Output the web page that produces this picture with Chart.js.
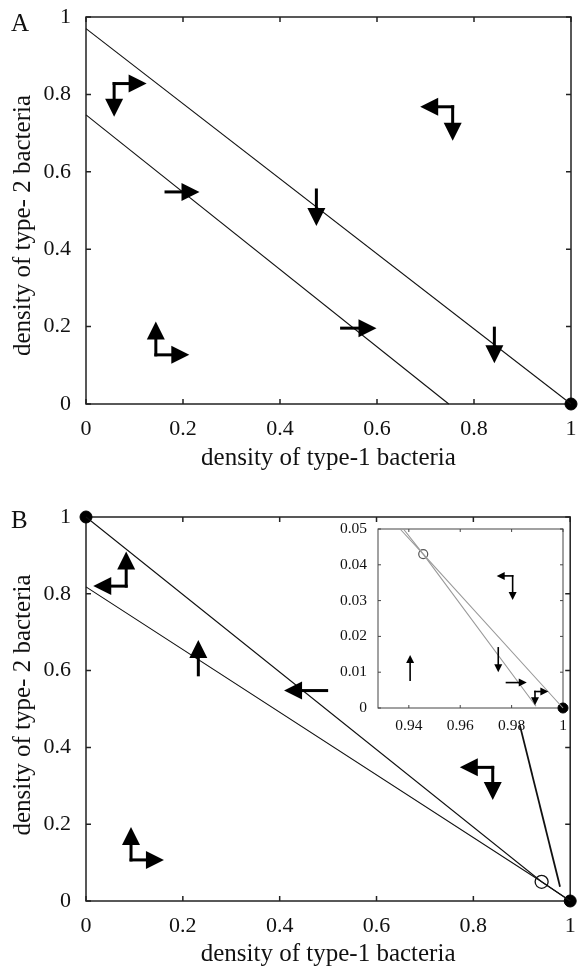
<!DOCTYPE html>
<html>
<head>
<meta charset="utf-8">
<script src="https://cdn.jsdelivr.net/npm/chart.js@4.4.0/dist/chart.umd.min.js"></script>
<style>
  body { margin: 0; background: #fff; }
  #wrap { position: relative; width: 578px; height: 970px; overflow: hidden; }
  canvas { position: absolute; }
  .tag { position: absolute; font-family: 'Liberation Serif', serif; font-size: 25px; line-height: 1; color: #111; }
</style>
</head>
<body>
<div id="wrap">
  <canvas id="chartA" width="578" height="485" style="left:0;top:0"></canvas>
  <canvas id="chartB" width="578" height="485" style="left:0;top:485px"></canvas>
  <canvas id="chartInset" width="240" height="215" style="left:330px;top:515px"></canvas>
  <div class="tag" style="left:11px;top:10px">A</div>
  <div class="tag" style="left:11px;top:507px">B</div>
</div>
<script>
const FONT = 'Liberation Serif';

// axis ticks
const mainTicks = [0, 0.2, 0.4, 0.6, 0.8, 1];
const insetXTicks = [0.94, 0.96, 0.98, 1];
const insetYTicks = [0, 0.01, 0.02, 0.03, 0.04, 0.05];

// panel A: the two nullclines and the fixed point
const aUpperX = [0, 1];
const aUpperY = [0.97, 0];
const aLowerX = [0, 0.748];
const aLowerY = [0.747, 0];
const aFixedX = [1];
const aFixedY = [0];
// arrows as [tailX, tailY, tipX, tipY]
const aArrows = [
  [0.058, 0.828, 0.125, 0.828], [0.058, 0.828, 0.058, 0.742],
  [0.756, 0.768, 0.689, 0.768], [0.756, 0.768, 0.756, 0.680],
  [0.165, 0.548, 0.234, 0.548],
  [0.475, 0.553, 0.475, 0.460],
  [0.527, 0.196, 0.599, 0.196],
  [0.842, 0.196, 0.842, 0.105],
  [0.144, 0.127, 0.144, 0.213], [0.144, 0.127, 0.213, 0.127]
];

// panel B
const bUpperX = [0, 0.941, 1];
const bUpperY = [1, 0.05, 0];
const bLowerX = [0, 0.941, 1];
const bLowerY = [0.818, 0.05, 0];
const bStableX = [0, 1];
const bStableY = [1, 0];
const bSaddleX = [0.941];
const bSaddleY = [0.05];
const bPointerX = [0.896, 0.979];
const bPointerY = [0.458, 0.037];
const bArrows = [
  [0.083, 0.820, 0.083, 0.910], [0.083, 0.820, 0.015, 0.820],
  [0.232, 0.589, 0.232, 0.680],
  [0.497, 0.548, 0.409, 0.548],
  [0.840, 0.348, 0.772, 0.348], [0.840, 0.348, 0.840, 0.263],
  [0.093, 0.107, 0.093, 0.193], [0.093, 0.107, 0.161, 0.107]
];

// inset of panel B (zoom near (1,0))
const cUpperX = [0.9366, 0.9456, 1];
const cUpperY = [0.05, 0.043, 0];
const cLowerX = [0.9379, 0.9456, 0.9895];
const cLowerY = [0.05, 0.043, 0.0005];
const cStableX = [1];
const cStableY = [0];
const cSaddleX = [0.9456];
const cSaddleY = [0.043];
const cArrows = [
  [0.9405, 0.0078, 0.9405, 0.0148],
  [0.9804, 0.0369, 0.9742, 0.0369], [0.9804, 0.0369, 0.9804, 0.0302],
  [0.9748, 0.0168, 0.9748, 0.0100],
  [0.9780, 0.0071, 0.9859, 0.0071],
  [0.9891, 0.0046, 0.9943, 0.0046], [0.9891, 0.0046, 0.9891, 0.0008]
];

const pts = (xs, ys) => xs.map((x, i) => ({ x: x, y: ys[i] }));
const line = (xs, ys, color, w) => ({
  data: pts(xs, ys), showLine: true, borderColor: color, borderWidth: w,
  pointRadius: 0, clip: false
});
const dot = (xs, ys, r, fill, stroke, w) => ({
  data: pts(xs, ys), showLine: false, pointRadius: r,
  backgroundColor: fill, borderColor: stroke, borderWidth: w, clip: false
});

function drawArrow(ctx, x0, y0, x1, y1, shaft, headLen, headW) {
  const ang = Math.atan2(y1 - y0, x1 - x0);
  const c = Math.cos(ang), s = Math.sin(ang);
  const bx = x1 - headLen * c, by = y1 - headLen * s;
  ctx.lineWidth = shaft;
  ctx.lineCap = 'square';
  ctx.beginPath();
  ctx.moveTo(x0, y0);
  ctx.lineTo(bx, by);
  ctx.stroke();
  ctx.beginPath();
  ctx.moveTo(x1, y1);
  ctx.lineTo(bx + headW / 2 * s, by - headW / 2 * c);
  ctx.lineTo(bx - headW / 2 * s, by + headW / 2 * c);
  ctx.closePath();
  ctx.fill();
}

// box frame, inward ticks on all four sides, flow arrows, y axis title
const phasePlugin = {
  id: 'phase',
  beforeDraw(chart, args, opts) {
    if (!opts.fill) return;
    const a = chart.chartArea;
    chart.ctx.save();
    chart.ctx.fillStyle = '#fff';
    chart.ctx.fillRect(a.left, a.top, a.right - a.left, a.bottom - a.top);
    chart.ctx.restore();
  },
  beforeDatasetsDraw(chart, args, opts) {
    const ctx = chart.ctx, a = chart.chartArea;
    const xs = chart.scales.x, ys = chart.scales.y;
    ctx.save();
    ctx.strokeStyle = opts.frameColor;
    ctx.lineWidth = opts.frameWidth;
    ctx.strokeRect(a.left, a.top, a.right - a.left, a.bottom - a.top);
    ctx.beginPath();
    xs.ticks.forEach(t => {
      const p = xs.getPixelForValue(t.value);
      ctx.moveTo(p, a.bottom); ctx.lineTo(p, a.bottom - opts.tick);
      ctx.moveTo(p, a.top); ctx.lineTo(p, a.top + opts.tick);
    });
    ys.ticks.forEach(t => {
      const p = ys.getPixelForValue(t.value);
      ctx.moveTo(a.left, p); ctx.lineTo(a.left + opts.tick, p);
      ctx.moveTo(a.right, p); ctx.lineTo(a.right - opts.tick, p);
    });
    ctx.stroke();
    ctx.restore();
  },
  afterDatasetsDraw(chart, args, opts) {
    const ctx = chart.ctx;
    const xs = chart.scales.x, ys = chart.scales.y;
    ctx.save();
    ctx.strokeStyle = '#000';
    ctx.fillStyle = '#000';
    opts.arrows.forEach(r => {
      drawArrow(ctx, xs.getPixelForValue(r[0]), ys.getPixelForValue(r[1]),
        xs.getPixelForValue(r[2]), ys.getPixelForValue(r[3]),
        opts.shaft, opts.head, opts.headW);
    });
    ctx.restore();
  },
  afterDraw(chart, args, opts) {
    if (!opts.yLabel) return;
    const ctx = chart.ctx, a = chart.chartArea;
    ctx.save();
    ctx.translate(opts.yLabel.x, (a.top + a.bottom) / 2 + opts.yLabel.shift);
    ctx.rotate(-Math.PI / 2);
    ctx.font = '25px ' + FONT;
    ctx.fillStyle = '#111';
    ctx.textAlign = 'center';
    ctx.textBaseline = 'middle';
    ctx.fillText(opts.yLabel.text, 0, 0);
    ctx.restore();
  }
};

function makeChart(id, cfg) {
  const axis = (min, max, ticks, fit, pad, size, title) => ({
    type: 'linear', min: min, max: max,
    grid: { display: false },
    border: { display: false },
    afterBuildTicks: s => { s.ticks = ticks.map(v => ({ value: v })); },
    afterFit: fit,
    ticks: {
      padding: pad, maxRotation: 0, autoSkip: false, color: '#111',
      font: { family: FONT, size: size },
      callback: v => String(v)
    },
    title: title
  });
  return new Chart(document.getElementById(id), {
    type: 'scatter',
    data: { datasets: cfg.datasets },
    plugins: [phasePlugin],
    options: {
      responsive: false,
      animation: false,
      events: [],
      layout: { padding: cfg.padding },
      plugins: { legend: { display: false }, tooltip: { enabled: false }, phase: cfg.phase },
      scales: {
        x: axis(cfg.xMin, cfg.xMax, cfg.xTicks,
          s => { s.height = cfg.xH; s.paddingLeft = 0; s.paddingRight = 0; },
          cfg.xPad, cfg.tickSize, cfg.xTitle),
        y: axis(cfg.yMin, cfg.yMax, cfg.yTicks,
          s => { s.width = cfg.yW; s.paddingTop = 0; s.paddingBottom = 0; },
          cfg.yPad, cfg.tickSize, { display: false })
      }
    }
  });
}

const xTitle = bottomPad => ({
  display: true, text: 'density of type-1 bacteria', color: '#111',
  font: { family: FONT, size: 25 }, padding: { top: 0, bottom: bottomPad }
});
const mainPhase = (arrows, shift) => ({
  arrows: arrows, shaft: 3, head: 18, headW: 18, tick: 5,
  frameColor: '#222', frameWidth: 1.5, fill: false,
  yLabel: { text: 'density of type- 2 bacteria', x: 23, shift: shift }
});

makeChart('chartA', {
  datasets: [
    line(aUpperX, aUpperY, '#111', 1.1),
    line(aLowerX, aLowerY, '#111', 1.1),
    dot(aFixedX, aFixedY, 6, '#000', '#000', 1)
  ],
  padding: { top: 17, right: 1, left: 0, bottom: 0 },
  xMin: 0, xMax: 1, yMin: 0, yMax: 1, xTicks: mainTicks, yTicks: mainTicks,
  xH: 81, yW: 86, xPad: 4, yPad: 7, tickSize: 22,
  xTitle: xTitle(11.4),
  phase: mainPhase(aArrows, 15)
});

makeChart('chartB', {
  datasets: [
    line(bUpperX, bUpperY, '#111', 1.1),
    line(bLowerX, bLowerY, '#111', 1.1),
    line(bPointerX, bPointerY, '#111', 1.8),
    dot(bSaddleX, bSaddleY, 6.5, '#fff', '#111', 1.3),
    dot(bStableX, bStableY, 6, '#000', '#000', 1)
  ],
  padding: { top: 32, right: 1, left: 0, bottom: 0 },
  xMin: 0, xMax: 1, yMin: 0, yMax: 1, xTicks: mainTicks, yTicks: mainTicks,
  xH: 69, yW: 86, xPad: 4, yPad: 7, tickSize: 22,
  xTitle: xTitle(0.4),
  phase: mainPhase(bArrows, -4)
});

makeChart('chartInset', {
  datasets: [
    line(cUpperX, cUpperY, '#999', 1.1),
    line(cLowerX, cLowerY, '#999', 1.1),
    dot(cSaddleX, cSaddleY, 4.5, '#fff', '#555', 1.2),
    dot(cStableX, cStableY, 5, '#000', '#000', 1)
  ],
  padding: { top: 14, right: 7, left: 0, bottom: 0 },
  xMin: 0.928, xMax: 1, yMin: 0, yMax: 0.05, xTicks: insetXTicks, yTicks: insetYTicks,
  xH: 22, yW: 48, xPad: 1, yPad: 3, tickSize: 15.5,
  xTitle: { display: false },
  phase: {
    arrows: cArrows, shaft: 1.6, head: 8, headW: 8, tick: 3,
    frameColor: '#444', frameWidth: 1, fill: true
  }
});
</script>
</body>
</html>
